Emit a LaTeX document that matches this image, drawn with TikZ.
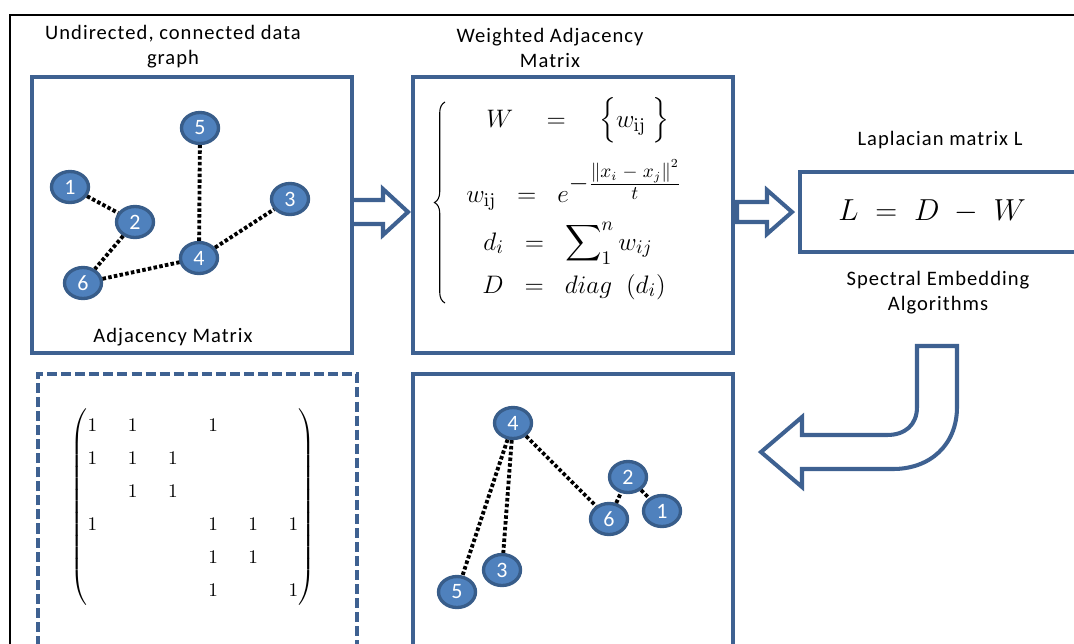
\documentclass[tikz,border=0pt]{standalone}
\usepackage{amsmath}
\usepackage[no-math]{fontspec}
\setmainfont{Carlito}
\newfontfamily\labelfont[LetterSpace=5]{Carlito}
\usetikzlibrary{shapes.geometric,decorations.pathreplacing}
\definecolor{boxblue}{RGB}{62,97,145}
\definecolor{nodeblue}{RGB}{79,129,189}
\definecolor{nodeline}{RGB}{56,93,138}
\tikzset{
  vertex/.style={ellipse,fill=nodeblue,draw=nodeline,line width=1.9pt,
    minimum width=0.74cm,minimum height=0.62cm,inner sep=0pt,text=white,
    font=\fontsize{12.5}{14}\selectfont},
  edge/.style={line width=2.2pt,dash pattern=on 2pt off 1.3pt},
  panel/.style={draw=boxblue,line width=2.3pt},
  blockarrow/.style={draw=boxblue,line width=2.3pt,line join=miter},
  lbl/.style={align=center,inner sep=0pt,font=\labelfont\fontsize{11.7}{14.2}\selectfont},
  eqn/.style={anchor=base,inner sep=0pt,font=\fontsize{15}{18}\selectfont}
}
\begin{document}
\begin{tikzpicture}[x=0.02cm,y=-0.02cm]
\useasboundingbox (0,0) rectangle (1074,643);
\clip (0,0) rectangle (1074,643);
% outer frame
\draw[line width=1.1pt] (1080,15) -- (10,15) -- (10,650);
% panels
\draw[panel] (32,77) rectangle (352,353);
\draw[panel] (413,77) rectangle (733,353);
\draw[panel] (800,172) rectangle (1090,252);
\draw[panel,dash pattern=on 5.7pt off 2.3pt] (38,660) -- (38,374) -- (357,374) -- (357,660);
\draw[panel] (413,660) -- (413,374) -- (733,374) -- (733,660);
% titles
\node[lbl] (ttlgraph) at (173,47) {Undirected, connected data\\graph};
\node[lbl] (ttladj) at (173,337) {Adjacency Matrix};
\node[lbl] (ttlweight) at (550,48) {Weighted Adjacency\\Matrix};
\node[lbl] (ttllap) at (940,140) {Laplacian matrix L};
\node[lbl] (ttlspec) at (938,293) {Spectral Embedding\\Algorithms};
% data graph
\node[vertex] (a1) at (70,187) {1};
\node[vertex] (a2) at (135,222) {2};
\node[vertex] (a3) at (290,199) {3};
\node[vertex] (a4) at (199,258) {4};
\node[vertex] (a5) at (200,128) {5};
\node[vertex] (a6) at (83,283) {6};
\foreach \s/\t in {a1/a2,a2/a6,a6/a4,a4/a5,a4/a3}
  \draw[edge] (\s) -- (\t);
% weights
\draw[line width=0.6pt,decorate,decoration={brace,amplitude=6pt}] (445,303) -- (445,102);
\node[eqn] (eqW) at (578,127) {$W \quad = \quad \Bigl\{w_{\mathrm{ij}}\;\Bigr\}$};
\node[eqn] (eqw) at (574,202) {$w_{\mathrm{ij}} \;\;=\;\; e^{\textstyle -\frac{\left\|x_{i} \; - \; x_{j}\right\|^2}{t}}$};
\node[eqn] (eqd) at (568,250) {$d_i \;\;=\;\; \displaystyle\sum\nolimits_1^n w_{ij}$};
\node[eqn] (eqD) at (574,293) {$D \;\;=\;\; diag\;\;(d_i)$};
% laplacian
\node[eqn,font=\fontsize{16}{19}\selectfont] (eqL) at (932,220) {$L \;=\; D \;-\; W$};
% adjacency matrix
\node[inner sep=0pt,font=\fontsize{11}{13.6}\selectfont] (adjmat) at (193,507)
  {\setlength{\arraycolsep}{8.7pt}\renewcommand{\arraystretch}{1.38}%
  $\begin{pmatrix}
  1 & 1 &   & 1 &   &   \\
  1 & 1 & 1 &   &   &   \\
    & 1 & 1 &   &   &   \\
  1 &   &   & 1 & 1 & 1 \\
    &   &   & 1 & 1 &   \\
    &   &   & 1 &   & 1
  \end{pmatrix}$};
% embedded graph
\node[vertex] (b1) at (662,511) {1};
\node[vertex] (b2) at (628,477) {2};
\node[vertex] (b3) at (502,570) {3};
\node[vertex] (b4) at (513,423) {4};
\node[vertex] (b5) at (457,592) {5};
\node[vertex] (b6) at (609,519) {6};
\foreach \s/\t in {b4/b5,b4/b3,b4/b6,b6/b2,b2/b1}
  \draw[edge] (\s) -- (\t);
% block arrows
\draw[blockarrow] (353,200) -- (383,200) -- (383,189) -- (408,212) -- (383,235) -- (383,224) -- (353,224);
\draw[blockarrow] (737,202) -- (767,202) -- (767,190) -- (792,212) -- (767,234) -- (767,222) -- (737,222) -- cycle;
\draw[blockarrow] (917,346) -- (957,346) -- (957,407) .. controls (957,445) and (930,469) .. (893,469)
  -- (802,469) -- (802,487) -- (761,452) -- (802,417) -- (802,435) -- (887,435)
  .. controls (905,435) and (917,425) .. (917,407) -- cycle;
\end{tikzpicture}
\end{document}
